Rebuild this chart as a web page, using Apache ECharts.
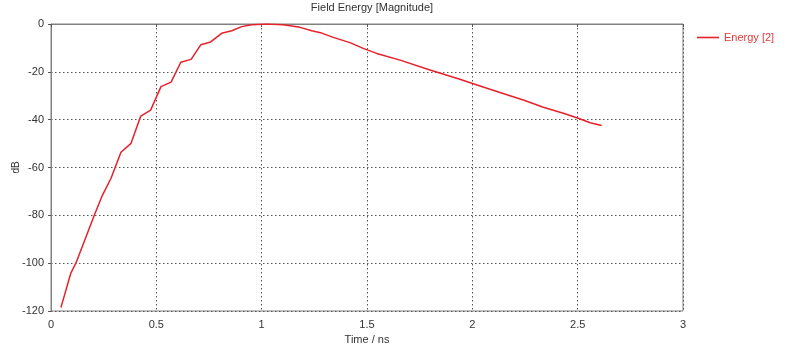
<!DOCTYPE html>
<html>
<head>
<meta charset="utf-8">
<script src="https://cdn.jsdelivr.net/npm/echarts@6/dist/echarts.min.js"></script>
<style>html,body{margin:0;padding:0;background:#fff}#c{width:808px;height:348px}</style>
</head>
<body>
<div id="c"></div>
<script>
const timeNs = [0.047,0.094,0.119,0.206,0.241,0.285,0.332,0.380,0.426,0.473,0.522,0.570,0.616,0.665,0.711,0.758,0.810,0.858,0.905,0.953,1.000,1.024,1.103,1.182,1.238,1.285,1.340,1.419,1.482,1.546,1.657,1.799,1.941,1.997,2.084,2.179,2.242,2.337,2.432,2.503,2.559,2.614];
const energyDb = [-118.6,-104.2,-99.8,-79.9,-72.2,-64.5,-53.6,-49.9,-38.5,-36.0,-26.2,-24.3,-16.0,-14.8,-8.7,-7.5,-3.9,-2.8,-1.1,-0.3,-0.1,0,-0.3,-1.4,-2.8,-3.8,-5.6,-7.8,-10.2,-12.3,-15.1,-19.2,-23.1,-24.8,-27.3,-30.0,-31.8,-34.8,-37.3,-39.4,-41.3,-42.4];
const xTicks = [0,0.5,1,1.5,2,2.5,3];
const yTicks = [-120,-100,-80,-60,-40,-20,0];

const font = 'Liberation Sans';
const chart = echarts.init(document.getElementById('c'));
chart.setOption({
  animation: false,
  title: {
    text: 'Field Energy [Magnitude]', left: 367, top: -3, textAlign: 'center',
    textStyle: {fontFamily: font, fontSize: 11, fontWeight: 'normal', color: '#333'}
  },
  legend: {
    data: ['Energy [2]'], left: 692, top: 27, itemWidth: 22, itemHeight: 10, itemGap: 4,
    icon: 'path://M0,4.2L22,4.2L22,5.8L0,5.8Z',
    textStyle: {fontFamily: font, fontSize: 11, color: '#e23b3b'}
  },
  grid: {left: 51, top: 24, width: 632, height: 287, show: true, borderColor: '#808080', borderWidth: 1, containLabel: false, outerBoundsMode: 'none'},
  xAxis: {
    type: 'value', min: xTicks[0], max: xTicks[xTicks.length-1], interval: 0.5,
    name: 'Time / ns', nameLocation: 'middle', nameGap: 23, nameMoveOverlap: false,
    nameTextStyle: {fontFamily: font, fontSize: 11, color: '#333'},
    axisLine: {show: true, lineStyle: {color: '#808080'}},
    axisTick: {show: true, length: 3, lineStyle: {color: '#555'}},
    axisLabel: {fontFamily: font, fontSize: 11, color: '#333', margin: 8},
    splitLine: {show: true, lineStyle: {color: '#555', type: [1.5, 2.5], width: 1}}
  },
  yAxis: {
    type: 'value', min: yTicks[0], max: yTicks[yTicks.length-1], interval: 20,
    name: 'dB', nameLocation: 'middle', nameGap: 30, nameRotate: 90, nameMoveOverlap: false,
    nameTextStyle: {fontFamily: font, fontSize: 10, color: '#333'},
    axisLine: {show: true, lineStyle: {color: '#808080'}},
    axisTick: {show: true, length: 3, lineStyle: {color: '#555'}},
    axisLabel: {fontFamily: font, fontSize: 11, color: '#333', margin: 7},
    splitLine: {show: true, lineStyle: {color: '#555', type: [1.5, 2.5], width: 1}}
  },
  series: [{
    name: 'Energy [2]', type: 'line', showSymbol: false, symbol: 'none',
    data: timeNs.map((t, i) => [t, energyDb[i]]),
    lineStyle: {color: '#e8202a', width: 1.5},
    itemStyle: {color: '#e8202a'}
  }]
});
</script>
</body>
</html>
